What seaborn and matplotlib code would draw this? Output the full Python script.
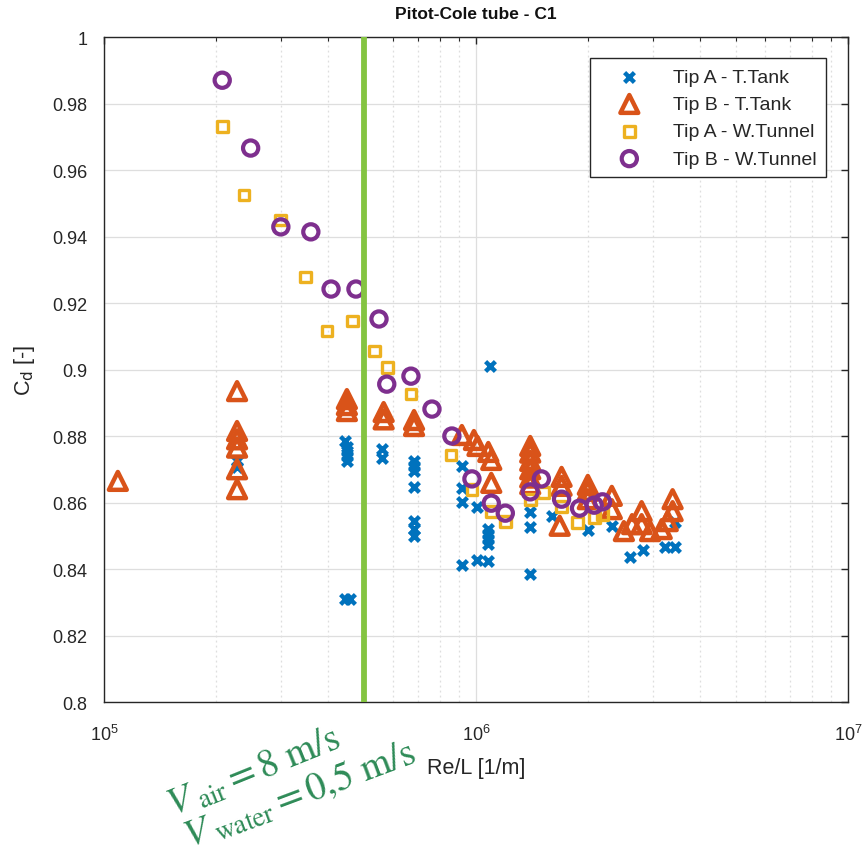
import numpy as np
import pandas as pd
import matplotlib
matplotlib.use("Agg")
import matplotlib.pyplot as plt
import seaborn as sns
from matplotlib.ticker import LogLocator, FixedLocator, FuncFormatter, NullFormatter

# ---------------- data ----------------
tipA_tank_x = [2.28e5, 2.28e5,
               4.44e5, 4.5e5, 4.5e5, 4.5e5, 4.5e5, 4.44e5, 4.58e5,
               5.6e5, 5.6e5,
               6.82e5, 6.82e5, 6.82e5, 6.82e5, 6.82e5, 6.82e5, 6.82e5,
               9.17e5, 9.17e5, 9.17e5, 9.17e5,
               1.01e6, 1.01e6,
               1.08e6, 1.08e6, 1.08e6, 1.08e6, 1.08e6, 1.09e6,
               1.40e6, 1.40e6, 1.40e6,
               1.60e6, 2.0e6, 2.32e6, 2.59e6, 2.81e6, 3.22e6, 3.43e6, 3.43e6]
tipA_tank_y = [0.8725, 0.8707,
               0.8785, 0.8767, 0.8755, 0.8740, 0.8725, 0.8310, 0.8310,
               0.8760, 0.8735,
               0.8725, 0.8710, 0.8695, 0.8647, 0.8544, 0.8520, 0.8500,
               0.8710, 0.8644, 0.8602, 0.8412,
               0.8586, 0.8427,
               0.8520, 0.8505, 0.8490, 0.8475, 0.8424, 0.9010,
               0.8571, 0.8526, 0.8385,
               0.8560, 0.8517, 0.8530, 0.8436, 0.8457, 0.8466, 0.8466, 0.8541]

tipB_tank_x = [1.09e5,
               2.28e5, 2.28e5, 2.28e5, 2.28e5, 2.28e5, 2.28e5,
               4.5e5, 4.5e5, 4.5e5,
               5.65e5, 5.65e5,
               6.82e5, 6.82e5,
               9.17e5, 9.88e5, 1.01e6, 1.08e6, 1.10e6, 1.10e6,
               1.40e6, 1.40e6, 1.40e6, 1.40e6, 1.40e6, 1.40e6,
               1.70e6, 1.70e6, 1.68e6,
               2.0e6, 2.0e6, 2.0e6,
               2.32e6, 2.32e6,
               2.50e6, 2.63e6, 2.79e6, 2.79e6, 2.94e6, 3.16e6, 3.28e6, 3.38e6, 3.38e6]
tipB_tank_y = [0.8665,
               0.8935, 0.8815, 0.8790, 0.8765, 0.8700, 0.8640,
               0.8911, 0.8893, 0.8875,
               0.8872, 0.8850,
               0.8848, 0.8830,
               0.8803, 0.8788, 0.8770, 0.8752, 0.8728, 0.8659,
               0.8770, 0.8750, 0.8725, 0.8700, 0.8675, 0.8655,
               0.8677, 0.8650, 0.8530,
               0.8653, 0.8635, 0.8610,
               0.8620, 0.8580,
               0.8514, 0.8535, 0.8574, 0.8535, 0.8514, 0.8520, 0.8544, 0.8610, 0.8574]

tipA_tunnel_x = [2.08e5, 2.38e5, 2.99e5, 3.49e5, 3.98e5, 4.67e5, 5.35e5, 5.8e5,
                 6.69e5, 8.57e5, 9.76e5, 1.10e6, 1.20e6, 1.40e6, 1.52e6, 1.70e6,
                 1.88e6, 2.08e6, 2.19e6]
tipA_tunnel_y = [0.973, 0.9525, 0.945, 0.9278, 0.9116, 0.9146, 0.9056, 0.9005,
                 0.8926, 0.8743, 0.8640, 0.8574, 0.8544, 0.8610, 0.8630, 0.8587,
                 0.8541, 0.8556, 0.8565]

tipB_tunnel_x = [2.08e5, 2.48e5, 2.99e5, 3.60e5, 4.08e5, 4.76e5, 5.49e5, 5.76e5,
                 6.69e5, 7.62e5, 8.62e5, 9.76e5, 1.10e6, 1.20e6, 1.40e6, 1.50e6,
                 1.70e6, 1.90e6, 2.08e6, 2.19e6]
tipB_tunnel_y = [0.987, 0.9666, 0.9429, 0.9414, 0.9242, 0.9242, 0.9152, 0.8956,
                 0.8980, 0.8881, 0.8800, 0.8671, 0.8598, 0.8568, 0.8632, 0.8671,
                 0.8610, 0.8583, 0.8592, 0.8602]

series_labels = ["Tip A - T.Tank", "Tip B - T.Tank", "Tip A - W.Tunnel", "Tip B - W.Tunnel"]
v_line = 5e5
y_ticks = [0.8, 0.82, 0.84, 0.86, 0.88, 0.9, 0.92, 0.94, 0.96, 0.98, 1.0]

# ---------------- styling ----------------
sns.set_style("white")
plt.rcParams["font.family"] = ["Liberation Sans", "DejaVu Sans"]
txt = "#262626"

fig = plt.figure(figsize=(8.66, 8.54), dpi=100)
ax = fig.add_axes([0.120, 0.1768, 0.859, 0.7787])

sns.scatterplot(x=tipA_tank_x, y=tipA_tank_y, ax=ax, marker="x", s=50,
                color="#0072BD", linewidth=3.2, label=series_labels[0], zorder=3)
sns.scatterplot(x=tipB_tank_x, y=tipB_tank_y, ax=ax, marker="^", s=165,
                color="#D95319", facecolor="none", edgecolor="#D95319",
                linewidth=3.2, label=series_labels[1], zorder=4)
sns.scatterplot(x=tipA_tunnel_x, y=tipA_tunnel_y, ax=ax, marker="s", s=60,
                color="#EDB120", facecolor="none", edgecolor="#EDB120",
                linewidth=2.4, label=series_labels[2], zorder=5)
sns.scatterplot(x=tipB_tunnel_x, y=tipB_tunnel_y, ax=ax, marker="o", s=120,
                color="#7E2F8E", facecolor="none", edgecolor="#7E2F8E",
                linewidth=3.0, label=series_labels[3], zorder=6)

ax.axvline(v_line, color="#84C441", lw=4.2, zorder=7)

ax.set_xscale("log")
ax.set_xlim(1e5, 1e7)
ax.set_ylim(0.8, 1.0)
ax.yaxis.set_major_locator(FixedLocator(y_ticks))
ax.yaxis.set_major_formatter(FuncFormatter(lambda v, p: f"{v:g}"))
ax.xaxis.set_major_locator(LogLocator(base=10))
ax.xaxis.set_minor_locator(LogLocator(base=10, subs=np.arange(2, 10)))
ax.xaxis.set_minor_formatter(NullFormatter())

ax.grid(True, which="major", color="#dedede", lw=0.9, ls="-", zorder=0)
ax.grid(True, which="minor", axis="x", color="#dedede", lw=0.9, ls=(0, (1.5, 2.5)), zorder=0)
ax.set_axisbelow(True)

ax.tick_params(which="both", direction="in", top=True, right=True, colors=txt,
               labelsize=13)
ax.tick_params(which="major", length=5, width=1)
ax.tick_params(which="minor", length=3, width=0.8)
ax.tick_params(axis="x", pad=16)
ax.tick_params(axis="y", pad=12)
for sp in ax.spines.values():
    sp.set_color("#262626")
    sp.set_linewidth(1.0)

ax.set_title("Pitot-Cole tube - C1", fontweight="bold", fontsize=12.5, color="#111111", pad=14)
ax.set_ylabel(r"C$_\mathrm{d}$ [-]", fontsize=15.5, color=txt, labelpad=11)
ax.set_xlabel("Re/L [1/m]", fontsize=15.5, color=txt, labelpad=9)

leg = ax.legend(loc="upper right", fontsize=14, frameon=True, fancybox=False,
                edgecolor="#262626", framealpha=1, borderpad=0.5, labelspacing=0.5,
                handlelength=3.0, handletextpad=0.75, borderaxespad=1.1,
                markerfirst=True)
leg.get_frame().set_linewidth(1.0)
for t in leg.get_texts():
    t.set_color(txt)

green = "#2E8B57"
fig.text(172 / 866, 1 - 816 / 854, r"$V_{\ \mathrm{air}} = 8\ \mathrm{m/s}$",
         color=green, fontsize=28, rotation=22, rotation_mode="anchor",
         ha="left", va="baseline", math_fontfamily="stix")
fig.text(188 / 866, 1 - 847 / 854, r"$V_{\ \mathrm{water}} = 0{,}5\ \mathrm{m/s}$",
         color=green, fontsize=28, rotation=20.5, rotation_mode="anchor",
         ha="left", va="baseline", math_fontfamily="stix")

fig.savefig("out.png", dpi=100)
